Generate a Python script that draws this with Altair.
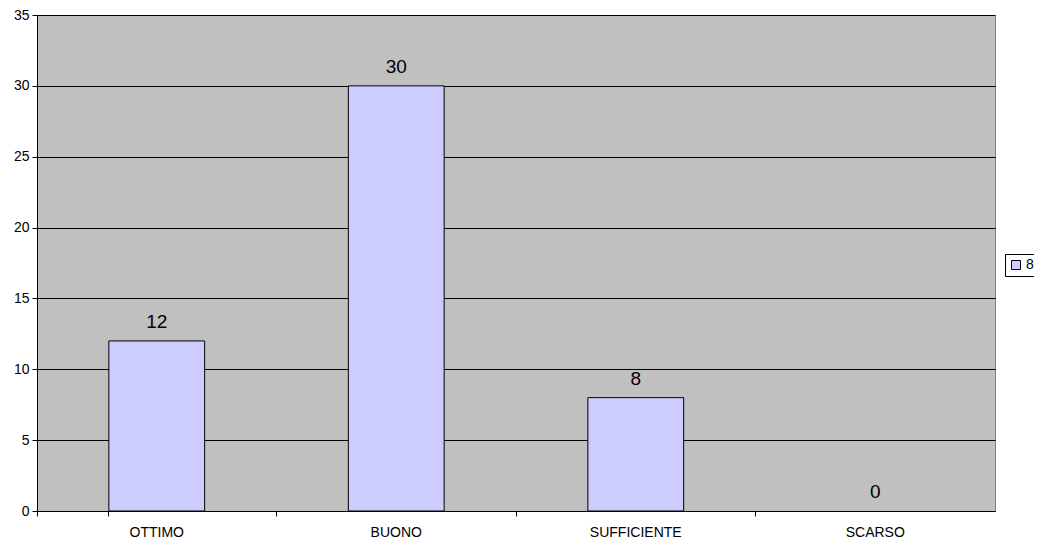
import altair as alt
import pandas as pd

categories = ["OTTIMO", "BUONO", "SUFFICIENTE", "SCARSO"]
values = [12, 30, 8, 0]
series_name = ["8", "8", "8", "8"]

df = pd.DataFrame({"cat": categories, "val": values, "series": series_name})

FONT = "Liberation Sans"

x = alt.X("cat:N", sort=categories, title=None,
          scale=alt.Scale(paddingInner=0.6, paddingOuter=0.3),
          axis=alt.Axis(labelAngle=0, labelFontSize=14, labelFont=FONT, labelColor="black",
                        bandPosition=-0.75, tickExtra=True, tickSize=5, tickColor="black",
                        domainColor="black", labelPadding=9, grid=False))

bars = alt.Chart(df).transform_filter("datum.val > 0").mark_bar(stroke="black", strokeWidth=1).encode(
    x=x,
    y=alt.Y("val:Q", title=None,
            scale=alt.Scale(domain=[0, 35], nice=False),
            axis=alt.Axis(values=[0, 5, 10, 15, 20, 25, 30, 35], labelFontSize=14, labelFont=FONT,
                          labelColor="black", tickSize=5, tickColor="black",
                          domainColor="black", gridColor="black", gridWidth=1,
                          labelPadding=3)),
    color=alt.Color("series:N", title=None,
                    scale=alt.Scale(range=["#CCCCFF"]),
                    legend=alt.Legend(orient="none", legendX=968, legendY=239,
                                      fillColor="white", strokeColor="black",
                                      padding=4, symbolType="square", symbolSize=81,
                                      symbolStrokeColor="black", symbolStrokeWidth=1,
                                      labelFontSize=14, labelFont=FONT, labelColor="black",
                                      labelOffset=3)),
)

labels = alt.Chart(df).mark_text(fontSize=19, font=FONT, color="black",
                                 baseline="alphabetic", dy=-13).encode(
    x=alt.X("cat:N", sort=categories),
    y="val:Q",
    text="val:Q",
)

chart = alt.layer(bars, labels).properties(
    width=958, height=496,
    autosize=alt.AutoSizeParams(type="none"),
    padding={"left": 29, "top": 7, "right": 39, "bottom": 28},
    background="white",
).configure_view(
    fill="#C0C0C0", stroke="#808080", strokeWidth=1
)

chart.save("out.html", embed_options={"renderer": "svg", "actions": False})
